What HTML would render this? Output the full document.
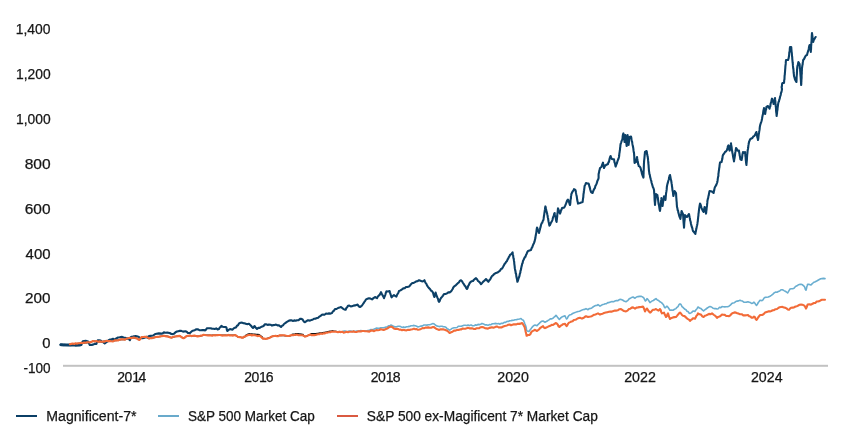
<!DOCTYPE html>
<html lang="en">
<head>
<meta charset="utf-8">
<title>Magnificent-7 vs S&amp;P 500 Market Cap</title>
<style>
html,body{margin:0;padding:0;background:#fff;}
body{width:845px;height:435px;overflow:hidden;position:relative;font-family:"Liberation Sans",Arial,sans-serif;}
svg{position:absolute;left:0;top:0;display:block;}
text{font-family:"Liberation Sans",Arial,sans-serif;font-size:14px;fill:#161616;stroke:#161616;stroke-width:0.25px;}
.ln{fill:none;stroke-linejoin:round;stroke-linecap:round;}
</style>
</head>
<body>
<svg width="845" height="435" viewBox="0 0 845 435">
<rect x="0" y="0" width="845" height="435" fill="#ffffff"/>
<rect x="63" y="364.8" width="765" height="2" fill="#c2c2c2"/>
<g>
<text id="y1400" x="15.71" y="34.0" textLength="34.79" lengthAdjust="spacingAndGlyphs">1,400</text>
<text id="y1200" x="16.01" y="78.9" textLength="34.63" lengthAdjust="spacingAndGlyphs">1,200</text>
<text id="y1000" x="16.01" y="123.7" textLength="34.63" lengthAdjust="spacingAndGlyphs">1,000</text>
<text id="y800" x="24.65" y="168.6" textLength="25.96" lengthAdjust="spacingAndGlyphs">800</text>
<text id="y600" x="24.78" y="213.5" textLength="25.78" lengthAdjust="spacingAndGlyphs">600</text>
<text id="y400" x="25.59" y="258.5" textLength="24.95" lengthAdjust="spacingAndGlyphs">400</text>
<text id="y200" x="25.14" y="303.4" textLength="25.46" lengthAdjust="spacingAndGlyphs">200</text>
<text id="y0" x="42.37" y="348.2" textLength="8.25" lengthAdjust="spacingAndGlyphs">0</text>
<text id="ym100" x="23.52" y="372.7" textLength="27.10" lengthAdjust="spacingAndGlyphs">-100</text>
<text id="x2014" x="117.20 124.55 132.15 138.45" y="382.1">2014</text>
<text id="x2016" x="244.15 251.50 259.10 265.70" y="382.1">2016</text>
<text id="x2018" x="370.75 378.10 385.70 392.80" y="382.1">2018</text>
<text id="x2020" x="497.24" y="382.1" textLength="31.67" lengthAdjust="spacingAndGlyphs">2020</text>
<text id="x2022" x="624.19" y="382.1" textLength="31.73" lengthAdjust="spacingAndGlyphs">2022</text>
<text id="x2024" x="750.94" y="382.1" textLength="31.62" lengthAdjust="spacingAndGlyphs">2024</text>
<text id="l1" x="46.29" y="420.5" textLength="90.26" lengthAdjust="spacingAndGlyphs">Magnificent-7*</text>
<text id="l2" x="187.97" y="420.5" textLength="126.78" lengthAdjust="spacingAndGlyphs">S&amp;P 500 Market Cap</text>
<text id="l3" x="366.86" y="420.5" textLength="230.97" lengthAdjust="spacingAndGlyphs">S&amp;P 500 ex-Magificent 7* Market Cap</text>
</g>
<polyline class="ln" stroke="#141414" stroke-width="1.4" points="70.0,344.1 71.0,344.1 72.0,344.0 73.0,343.9 74.0,343.8 75.0,343.7 76.0,343.6 77.0,343.6 78.0,343.5 79.0,343.4 80.0,343.3 81.0,343.2 82.0,343.1 83.0,343.1 84.0,343.0 85.0,342.9 86.0,342.8 87.0,342.7 88.0,342.6 89.0,342.6 90.0,342.4 91.0,342.0 92.0,341.6 93.0,341.1 94.0,341.2 95.0,341.3 96.0,341.4 97.0,341.5 98.0,341.7 99.0,341.7 100.0,341.7 101.0,341.7 102.0,341.6 103.0,341.4 104.0,341.2 105.0,341.1 106.0,340.9 107.0,340.9 108.0,341.0 109.0,341.1 110.0,341.1 111.0,341.2 112.0,341.1 113.0,341.0 114.0,340.8 115.0,340.6 116.0,340.5 117.0,340.3 118.0,340.1 119.0,339.9 120.0,339.7 121.0,339.5 122.0,339.5 123.0,339.5 124.0,339.6 125.0,339.6 126.0,339.2 127.0,338.8 128.0,338.3 129.0,338.1 130.0,338.0 131.0,337.9 132.0,337.8 133.0,337.8 134.0,337.9 135.0,338.0 136.0,338.1 137.0,338.5 138.0,339.1 139.0,339.7 140.0,339.3 141.0,337.9 142.0,337.1 143.0,336.9 144.0,336.8 145.0,336.8 146.0,337.2 147.0,337.7 148.0,338.1 149.0,338.5 150.0,338.3 151.0,338.1 152.0,337.9 153.0,337.7 154.0,337.5 155.0,337.3 156.0,337.1 157.0,336.9 158.0,336.8 159.0,336.6 160.0,336.5 161.0,336.4 162.0,336.2 163.0,336.1 164.0,336.0 165.0,335.9 166.0,336.1 167.0,336.3 168.0,336.5 169.0,336.9 170.0,337.2 171.0,337.6 172.0,337.5 173.0,337.1 174.0,336.8 175.0,336.5 176.0,336.4 177.0,336.2 178.0,336.1 179.0,336.0 180.0,336.1 181.0,336.7 182.0,337.3 183.0,337.8 184.0,337.9 185.0,337.2 186.0,336.5 187.0,336.1 188.0,335.9 189.0,335.7 190.0,335.5 191.0,335.6 192.0,335.7 193.0,335.8 194.0,335.9 195.0,335.9 196.0,336.0 197.0,336.1 198.0,336.1 199.0,336.2 200.0,336.0 201.0,335.8 202.0,335.6 203.0,335.4 204.0,335.2 205.0,335.0 206.0,335.1 207.0,335.1 208.0,335.2 209.0,335.3 210.0,335.3 211.0,335.4 212.0,335.3 213.0,335.3 214.0,335.2 215.0,335.2 216.0,335.1 217.0,335.1 218.0,335.1 219.0,335.0 220.0,335.1 221.0,335.1 222.0,335.1 223.0,335.2 224.0,335.2 225.0,335.3 226.0,335.3 227.0,335.4 228.0,335.3 229.0,335.3 230.0,335.2 231.0,335.2 232.0,335.1 233.0,335.1 234.0,335.1 235.0,335.0 236.0,335.7 237.0,336.3 238.0,337.0 239.0,337.1 240.0,337.2 241.0,337.4 242.0,337.5 243.0,337.6 244.0,337.2 245.0,336.7 246.0,335.1 247.0,334.7 248.0,334.2 249.0,333.8 250.0,333.9 251.0,334.0 252.0,334.0 253.0,334.1 254.0,334.2 255.0,334.3 256.0,334.4 257.0,334.4 258.0,334.5 259.0,334.6 260.0,335.3 261.0,336.0 262.0,336.7 263.0,338.6 264.0,338.6 265.0,338.6 266.0,338.6 267.0,338.6 268.0,338.2 269.0,337.8 270.0,337.4 271.0,337.0 272.0,336.6 273.0,336.2 274.0,336.1 275.0,336.0 276.0,335.9 277.0,335.8 278.0,335.7 279.0,335.6 280.0,335.5 281.0,335.4 282.0,335.5 283.0,335.5 284.0,335.6 285.0,335.7 286.0,335.8 287.0,335.9 288.0,335.9 289.0,336.0 290.0,335.8 291.0,335.6 292.0,334.5 293.0,334.3 294.0,334.1 295.0,334.0 296.0,333.8 297.0,333.6 298.0,333.7 299.0,333.9 300.0,334.0 301.0,334.1 302.0,334.3 303.0,334.4 304.0,336.0 305.0,336.6 306.0,336.2 307.0,335.8 308.0,335.4 309.0,335.0 310.0,334.9 311.0,333.8 312.0,333.8 313.0,333.7 314.0,333.6 315.0,333.6 316.0,333.6 317.0,333.5 318.0,333.4 319.0,333.2 320.0,333.0 321.0,332.9 322.0,332.8 323.0,332.6 324.0,332.4 325.0,332.3 326.0,332.1 327.0,331.9 328.0,331.7 329.0,331.5 330.0,331.3 331.0,331.1 332.0,330.9 333.0,330.7 334.0,330.8"/>
<polyline class="ln" stroke="#6aaed0" stroke-width="1.6" points="334.0,330.9 335.3,330.9 336.7,331.5 338.0,331.8 339.4,331.6 340.9,331.8 342.3,331.8 343.7,331.1 345.1,331.0 346.6,331.8 348.0,331.4 349.4,331.1 350.9,331.0 352.3,331.7 353.7,331.1 355.1,331.5 356.6,331.0 358.0,331.0 359.4,331.1 360.9,330.5 362.3,331.0 363.7,331.1 365.1,330.7 366.6,330.9 368.0,330.6 369.4,330.4 370.9,329.5 372.3,329.8 373.7,329.3 375.1,328.7 376.6,328.1 378.0,328.2 379.3,328.4 380.7,327.8 382.0,327.8 383.3,327.8 384.7,327.4 386.0,327.0 387.2,326.9 388.5,325.9 389.8,325.8 391.0,325.0 392.5,325.7 394.0,326.6 395.3,326.9 396.7,326.7 398.0,326.2 399.3,326.2 400.7,326.6 402.0,327.4 403.5,326.9 405.0,327.5 406.5,326.7 408.0,326.6 409.5,326.4 411.0,325.8 412.5,325.7 414.0,325.4 415.3,325.8 416.7,326.3 418.0,327.0 419.5,326.6 421.0,326.1 422.5,325.9 424.0,325.0 425.4,325.0 426.9,325.1 428.3,324.8 429.7,324.8 431.1,324.3 432.6,323.6 434.0,323.8 435.3,325.0 436.7,325.9 438.0,326.2 439.3,326.6 440.7,326.3 442.0,326.2 443.3,326.8 444.7,326.7 446.0,327.4 447.2,328.7 448.4,329.3 449.6,330.2 451.1,329.2 452.5,328.2 454.0,327.8 455.5,327.8 457.0,327.5 458.5,326.2 460.0,326.2 461.3,326.3 462.7,325.7 464.0,325.3 465.3,325.2 466.7,325.5 468.0,325.0 469.5,325.6 471.0,324.9 472.5,325.7 474.0,325.8 475.3,324.9 476.7,325.2 478.0,324.4 479.3,324.6 480.7,324.3 482.0,323.4 483.5,323.9 485.0,324.9 486.5,324.7 488.0,325.4 489.3,324.6 490.7,324.8 492.0,323.9 493.3,323.8 494.7,323.6 496.0,323.4 497.3,323.8 498.7,323.6 500.0,324.2 501.4,323.2 502.8,323.4 504.2,322.3 505.6,322.4 507.0,321.4 508.3,321.5 509.7,320.7 511.0,320.6 512.3,320.4 513.7,320.2 515.0,319.8 516.5,319.6 518.0,319.3 519.5,319.0 521.0,318.6 522.2,319.8 523.4,320.2 523.9,321.4 524.4,322.5 524.9,324.0 525.4,325.0 525.8,326.2 526.2,327.8 526.6,330.0 527.0,331.0 529.0,331.4 530.0,330.1 531.0,328.8 532.0,327.4 533.5,325.7 535.0,325.0 537.0,325.8 538.0,324.6 539.0,323.7 540.0,322.6 541.5,321.3 543.0,321.0 545.0,322.2 546.3,321.5 547.7,320.7 549.0,319.8 550.3,318.8 551.7,318.9 553.0,318.2 554.0,317.2 555.0,316.5 556.0,315.4 556.9,316.3 557.7,317.6 558.5,318.6 559.4,319.4 560.6,318.0 561.8,317.1 563.0,316.6 565.0,315.8 565.8,317.6 566.6,319.0 567.4,318.3 568.2,316.4 569.0,315.4 570.2,314.8 571.4,314.4 572.6,313.5 573.8,313.0 575.0,312.6 576.5,311.9 578.0,311.5 579.5,311.2 581.0,310.6 582.2,309.9 583.5,309.5 584.8,309.4 586.0,308.6 588.0,309.8 589.2,308.6 590.5,308.5 591.8,307.9 593.0,307.0 594.2,306.2 595.5,305.5 596.8,305.5 598.0,304.6 600.0,306.2 601.3,305.3 602.7,304.6 604.0,304.2 605.2,303.7 606.5,303.6 607.8,302.6 609.0,302.6 610.5,302.0 612.0,301.6 613.5,301.7 615.0,301.0 616.5,300.5 618.0,300.6 619.5,299.5 621.0,299.4 622.5,300.0 624.0,301.0 626.0,301.8 627.0,301.0 628.0,300.3 629.0,299.0 630.3,298.3 631.7,297.4 633.0,297.0 635.0,298.2 636.5,297.0 638.0,296.6 639.5,296.4 641.0,296.2 642.5,296.9 644.0,298.2 644.7,299.9 645.4,301.0 646.2,300.1 647.0,298.6 648.0,299.6 649.0,301.0 650.0,302.6 652.0,301.0 653.3,300.5 654.7,299.5 656.0,298.6 657.3,300.0 658.7,300.6 660.0,301.8 661.5,302.6 663.0,304.2 663.7,305.2 664.3,306.9 665.0,307.8 667.0,306.2 668.0,307.3 669.0,308.7 670.0,310.2 671.5,310.1 673.0,310.2 674.5,309.3 676.0,308.6 677.0,307.3 678.0,306.6 679.0,304.7 680.0,303.8 681.0,304.5 682.0,306.6 683.0,307.4 684.5,309.0 686.0,309.8 687.0,311.2 688.0,311.5 689.0,313.0 690.0,313.4 691.5,312.6 693.0,311.0 695.0,311.4 695.8,310.0 696.5,309.4 697.2,308.4 698.0,307.0 699.5,308.0 701.0,308.6 702.3,309.8 703.6,311.0 704.8,309.8 706.0,309.0 707.3,308.0 708.7,307.1 710.0,306.6 711.5,307.0 713.0,308.2 714.3,308.6 715.7,308.5 717.0,309.0 718.2,308.7 719.5,307.3 720.8,307.6 722.0,306.6 723.4,306.7 724.8,306.9 726.2,306.8 727.6,306.7 729.0,306.2 730.3,305.2 731.7,303.6 733.0,303.0 734.4,302.7 735.8,301.6 737.2,301.1 738.6,300.9 740.0,300.2 741.2,300.7 742.5,301.1 743.8,302.1 745.0,302.2 746.5,302.1 748.0,301.8 749.2,302.2 750.4,302.6 751.6,303.4 752.8,303.2 754.0,302.2 754.9,303.2 755.7,304.6 756.6,305.4 757.5,304.0 758.3,302.5 759.1,301.5 760.0,300.2 762.0,300.6 763.0,299.9 764.0,298.1 765.0,297.4 766.7,297.3 768.3,297.0 770.0,296.2 771.3,295.4 772.7,294.4 774.0,293.0 775.5,292.1 777.0,292.2 778.3,291.5 779.7,291.0 781.0,289.8 782.5,289.7 784.0,290.6 785.2,291.2 786.4,292.0 787.6,293.0 788.4,291.7 789.2,290.3 790.0,289.0 791.3,288.7 792.7,288.7 794.0,288.2 795.5,286.5 797.0,285.8 798.3,284.8 799.7,284.4 801.0,284.2 802.5,284.8 804.0,286.2 804.7,287.1 805.3,289.3 806.0,290.2 806.4,289.1 806.8,286.8 807.2,285.7 807.6,284.2 809.3,284.4 811.0,285.0 812.0,283.9 813.0,283.0 814.0,282.2 815.3,281.7 816.7,281.0 818.0,280.2 819.3,279.5 820.7,278.8 822.0,278.6 823.5,278.4 825.0,278.6"/>
<polyline class="ln" stroke="#0c4067" stroke-width="2.9" points="61.0,344.7 64.9,344.9 71.6,345.0 77.4,345.1 80.8,344.9"/>
<polyline class="ln" stroke="#0c4067" stroke-width="2.1" points="60.4,344.7 61.9,344.9 63.4,345.1 64.9,344.9 66.3,345.2 67.6,345.3 68.9,345.1 70.2,345.3 71.6,344.9 73.0,344.5 74.5,344.9 75.9,345.5 77.4,345.1 78.8,345.1 80.1,345.1 81.5,344.6 82.1,342.5 82.8,341.3 84.2,341.0 85.7,340.8 88.1,341.4 88.7,342.4 89.2,343.8 89.8,345.0 91.5,344.9 93.1,344.6 94.8,343.8 96.4,343.9 97.0,341.9 97.7,340.4 99.1,340.3 100.6,340.6 101.8,341.8 103.1,342.1 104.7,343.4 106.4,342.1 107.5,341.5 108.6,340.1 109.7,339.6 111.3,339.5 113.0,338.8 114.7,339.6 116.3,338.4 118.0,337.5 119.6,337.3 122.1,336.9 123.6,337.5 125.0,337.8 127.5,338.4 128.7,338.9 129.9,340.2 130.6,337.9 131.2,336.7 132.6,336.8 134.1,336.2 135.5,336.1 136.8,336.3 138.2,336.7 139.9,337.7 141.5,338.2 143.2,338.1 144.9,337.7 146.2,336.9 147.6,337.1 149.0,336.0 150.4,335.9 151.8,335.8 153.1,335.5 154.8,334.3 156.5,333.8 158.9,333.4 161.4,333.6 162.7,333.4 163.9,332.4 165.6,332.7 167.2,332.6 169.7,333.0 171.4,334.0 173.0,334.1 174.3,333.5 175.5,332.2 176.9,331.5 178.3,331.2 179.7,330.9 181.3,330.9 183.0,331.6 185.5,331.3 186.7,331.8 187.9,333.0 190.0,333.0 191.0,332.0 192.2,330.9 193.5,330.5 194.8,330.2 196.0,329.4 197.7,329.2 199.3,330.1 201.0,330.2 202.3,330.1 203.7,330.1 205.0,330.4 206.0,329.6 207.0,328.2 208.7,328.3 210.3,328.3 212.0,328.6 213.4,328.7 214.8,329.0 216.2,328.4 217.6,329.4 219.0,329.0 219.8,327.4 220.6,327.1 221.4,325.8 222.7,326.8 224.0,327.0 226.0,327.0 226.5,327.8 226.9,330.0 227.4,331.0 228.7,329.9 230.0,329.0 231.3,329.4 232.6,329.6 233.7,328.4 234.9,327.7 236.0,327.4 237.0,325.7 238.0,325.2 239.0,323.4 240.5,322.7 242.0,322.6 243.5,323.3 245.0,323.4 246.3,324.0 247.7,324.1 249.0,323.8 250.0,324.7 251.0,325.7 252.0,327.0 253.0,328.0 254.6,326.0 255.8,327.8 257.0,329.0 258.3,327.9 259.7,327.9 261.0,327.0 262.2,326.6 263.5,326.0 264.8,324.4 266.0,324.2 267.5,324.9 269.0,324.6 270.5,324.7 272.0,325.6 273.3,325.1 274.7,325.0 276.0,324.6 277.5,325.4 279.0,325.4 281.0,327.0 282.0,325.8 283.0,325.4 284.0,324.0 285.2,323.2 286.5,322.1 287.8,321.3 289.0,320.6 290.3,320.4 291.7,320.4 293.0,321.0 294.3,320.4 295.7,320.7 297.0,320.2 298.5,320.3 299.9,318.9 301.4,318.8 302.6,319.5 303.8,321.6 305.0,322.2 306.5,321.2 308.0,320.2 310.0,320.6 311.5,319.9 313.0,319.4 314.3,318.7 315.7,318.6 317.0,318.0 318.2,317.7 319.4,316.6 320.6,315.9 321.8,314.8 323.0,314.6 324.5,314.7 326.0,313.5 327.5,313.7 329.0,313.4 330.5,313.6 332.0,313.0 333.0,311.3 334.0,310.6 335.0,309.0 336.5,309.0 338.0,308.0 339.5,307.6 341.0,307.0 343.0,308.6 344.3,309.5 345.6,309.8 346.4,308.0 347.2,307.1 348.0,305.8 349.3,305.6 350.7,306.4 352.0,306.2 353.5,305.6 355.0,305.4 356.3,304.9 357.6,304.6 358.8,306.3 360.0,307.0 361.0,306.4 362.0,305.5 363.0,304.0 363.8,302.8 364.5,301.7 365.2,300.8 366.0,299.4 367.5,298.8 369.0,298.2 370.5,298.6 372.0,299.4 373.5,298.1 375.0,297.0 377.0,298.2 377.8,296.6 378.6,295.7 379.4,295.1 380.2,293.9 381.0,292.2 381.6,293.5 382.2,294.6 382.8,295.6 383.4,296.6 384.0,298.2 384.5,296.6 385.0,295.8 385.4,294.5 385.9,292.6 386.4,291.4 388.0,291.5 389.6,291.0 390.0,292.6 390.4,293.8 390.8,295.0 391.2,296.4 391.6,297.4 392.8,296.1 394.0,295.0 395.2,296.0 396.4,296.6 397.0,295.0 397.7,293.8 398.4,292.7 399.0,291.0 400.5,290.4 402.0,289.4 403.3,288.4 404.7,288.3 406.0,287.0 407.5,287.0 409.0,286.6 410.0,285.5 411.0,284.2 412.3,283.0 413.7,282.9 415.0,282.2 416.3,281.3 417.7,281.1 419.0,280.2 420.5,280.8 422.0,281.4 423.2,281.2 424.4,280.2 425.0,281.7 425.7,283.1 426.4,283.9 427.0,285.4 428.0,286.8 429.0,288.1 430.0,289.0 431.0,290.6 432.0,291.2 433.0,292.6 433.5,294.4 433.9,295.9 434.4,297.0 434.8,295.7 435.2,294.6 435.6,292.6 436.1,294.4 436.5,295.3 437.0,296.6 437.5,297.9 438.0,298.8 438.5,300.9 439.0,301.8 439.7,301.0 440.3,299.2 441.0,298.0 442.0,296.9 443.0,295.6 444.0,294.0 445.5,294.0 447.0,293.4 448.3,292.4 449.7,292.4 451.0,291.4 451.8,290.3 452.5,289.2 453.2,287.7 454.0,286.6 455.0,285.8 456.0,285.1 457.0,284.1 458.0,283.0 459.0,282.3 460.0,280.6 461.0,280.2 462.0,281.2 463.0,283.0 463.8,284.1 464.6,285.6 465.4,286.3 466.2,288.0 467.0,289.0 467.6,287.9 468.2,285.9 468.8,285.1 469.4,283.6 470.0,282.6 471.5,281.3 473.0,281.0 474.0,279.7 475.0,278.9 476.0,278.2 477.0,279.2 478.0,281.0 479.0,281.7 480.0,282.6 481.0,284.2 482.0,283.1 483.0,281.9 484.0,281.0 485.0,280.1 486.0,279.0 487.2,280.5 488.4,281.8 489.3,280.2 490.1,279.6 491.0,277.8 492.0,276.0 493.0,275.3 494.0,274.2 495.3,273.3 496.7,272.8 498.0,272.2 500.0,270.6 501.0,269.0 502.0,268.6 503.0,267.0 503.8,265.6 504.5,264.0 505.2,263.4 506.0,262.0 507.0,261.0 507.6,259.3 508.2,258.7 508.8,257.2 509.4,256.3 510.0,255.0 511.3,254.2 512.6,252.4 512.8,254.2 513.1,255.2 513.3,257.1 513.5,258.3 513.8,259.4 514.0,261.0 514.2,261.9 514.3,263.8 514.5,265.1 514.7,266.9 514.8,268.2 515.0,269.0 515.2,270.4 515.5,271.4 515.7,273.3 516.0,273.6 516.2,275.0 516.4,276.8 516.7,278.1 516.9,278.8 517.2,280.7 517.4,281.8 517.9,280.8 518.4,278.9 518.9,277.5 519.4,276.2 519.7,274.6 520.0,273.3 520.3,272.8 520.5,270.8 520.8,270.2 521.1,268.8 521.4,267.0 521.8,265.6 522.2,263.7 522.6,263.1 523.0,261.0 523.6,259.8 524.2,258.5 524.8,257.2 525.4,256.8 526.0,255.0 526.7,253.7 527.3,252.1 528.0,251.0 529.5,250.5 531.0,250.0 531.6,248.1 532.2,247.3 532.8,245.7 533.4,244.2 534.0,243.0 534.5,241.7 534.9,240.1 535.4,238.0 535.6,236.1 535.8,235.4 536.0,233.8 536.2,233.3 536.4,231.8 536.6,229.9 536.8,228.6 537.0,227.6 537.5,228.5 538.0,230.9 538.5,231.4 539.0,233.0 539.3,231.8 539.7,230.3 540.0,229.2 540.3,227.8 540.7,226.6 541.0,225.0 541.6,223.3 542.2,222.8 542.8,221.0 543.4,220.0 543.6,218.7 543.8,217.1 544.0,215.7 544.2,214.6 544.4,213.2 544.6,211.7 544.8,210.8 545.0,209.2 545.2,207.2 545.4,206.4 545.7,207.4 546.0,209.0 546.4,210.9 546.7,212.2 547.0,213.0 547.3,214.5 547.5,215.2 547.8,217.5 548.1,218.5 548.3,220.1 548.6,221.7 548.9,223.0 549.1,224.2 549.4,225.6 550.0,225.0 550.7,223.2 551.4,222.0 552.0,221.0 552.4,220.1 552.9,218.0 553.3,216.7 553.7,216.1 554.2,213.8 554.6,213.0 554.9,214.7 555.2,215.8 555.5,216.8 555.7,217.9 556.0,219.8 556.3,221.2 556.6,222.0 556.7,220.2 556.9,219.3 557.0,218.0 557.2,216.6 557.3,215.0 557.4,213.4 557.6,212.6 557.7,211.5 557.9,209.2 558.0,208.4 558.5,209.4 559.0,211.4 559.5,212.7 560.0,213.6 560.5,212.4 561.0,210.2 561.5,209.7 562.0,208.0 564.0,207.6 564.6,206.8 565.3,205.4 566.0,203.7 566.6,202.0 567.3,200.2 568.0,199.6 568.5,201.4 569.0,201.9 569.5,203.8 570.0,205.0 570.2,204.2 570.4,202.5 570.5,200.4 570.7,199.2 570.9,198.7 571.0,196.3 571.2,195.5 571.4,194.0 572.0,192.7 572.7,191.2 573.4,190.6 574.0,189.2 575.4,190.0 575.7,190.8 575.9,192.2 576.2,193.9 576.4,194.9 576.7,196.2 577.0,198.3 577.2,199.8 577.5,201.4 577.7,201.8 578.0,203.6 580.0,203.0 581.3,202.4 582.6,202.0 582.8,200.4 582.9,199.5 583.1,198.0 583.3,197.2 583.4,195.2 583.6,193.4 583.8,192.9 583.9,190.9 584.1,190.2 584.3,188.7 584.4,187.9 584.6,186.0 585.3,184.6 586.0,183.0 587.3,183.5 588.6,183.6 589.0,184.7 589.4,186.5 589.8,187.5 590.2,189.5 590.6,190.6 591.0,192.0 592.6,193.0 593.2,191.2 593.7,190.0 594.3,188.8 594.9,188.0 595.4,185.9 596.0,185.0 596.5,183.9 597.0,182.4 597.6,180.3 598.1,179.6 598.6,178.0 598.6,176.1 598.6,174.8 598.6,174.0 599.0,172.6 599.3,170.6 599.6,170.0 600.0,168.0 601.4,167.0 601.9,165.5 602.5,163.8 603.0,162.6 603.2,164.4 603.5,164.7 603.8,167.0 604.0,168.0 605.0,165.9 606.0,165.0 608.0,164.0 608.4,162.2 608.9,162.0 609.3,160.2 609.7,158.3 610.2,156.8 610.6,156.0 611.3,158.1 612.0,159.0 614.0,159.4 614.3,161.1 614.6,162.7 615.0,163.2 615.3,165.3 615.6,166.6 616.3,164.6 617.0,163.0 617.5,161.1 618.0,159.8 618.5,158.7 619.0,157.0 619.2,155.5 619.3,154.2 619.5,152.6 619.6,152.3 619.8,150.7 620.0,149.6 620.1,147.8 620.3,147.1 620.4,145.3 620.6,144.0 621.1,142.8 621.5,141.4 622.0,140.0 622.3,139.0 622.6,137.2 622.8,135.5 623.1,134.1 623.4,133.4 623.6,134.4 623.8,135.6 624.0,138.2 624.2,139.1 624.4,140.9 624.6,142.0 624.8,139.9 624.9,139.2 625.1,138.4 625.2,136.6 625.4,135.0 625.5,136.3 625.7,137.7 625.9,138.6 626.0,140.0 626.1,141.4 626.3,143.1 626.5,144.5 626.6,146.0 626.7,145.2 626.9,142.8 627.0,141.5 627.1,140.2 627.2,138.6 627.4,137.4 627.5,136.0 627.6,135.0 627.7,136.4 627.9,137.2 628.0,139.9 628.2,140.5 628.3,142.8 628.5,143.8 628.6,145.0 628.7,143.9 628.9,142.3 629.0,141.6 629.1,139.1 629.3,138.6 629.4,137.0 631.0,136.6 631.3,137.7 631.5,139.6 631.8,141.1 632.1,141.7 632.3,143.2 632.6,145.0 632.8,145.7 633.1,147.3 633.3,148.4 633.5,150.2 633.8,152.3 634.0,153.0 634.1,154.2 634.2,155.6 634.3,157.2 634.3,158.4 634.4,160.5 634.5,161.9 634.6,163.0 636.0,162.0 636.3,159.9 636.7,158.3 637.0,157.0 637.2,158.5 637.5,160.2 637.7,161.1 637.9,162.0 638.1,164.1 638.4,164.0 638.6,166.0 639.6,166.4 640.6,168.0 641.0,169.9 641.3,170.9 641.6,171.9 642.0,174.0 642.7,175.9 643.4,177.6 643.5,176.9 643.5,175.0 643.6,173.4 643.6,171.7 643.7,170.4 643.7,170.2 643.8,168.3 643.8,167.6 643.9,165.0 643.9,164.0 644.0,163.0 644.1,161.0 644.2,160.1 644.4,158.3 644.5,157.2 644.6,156.0 644.8,154.5 644.9,152.8 645.0,152.0 646.6,151.0 646.8,151.7 647.1,154.3 647.3,154.6 647.5,156.3 647.8,157.5 648.0,159.0 648.1,160.4 648.2,161.1 648.3,162.7 648.4,163.8 648.6,165.7 648.7,167.6 648.8,168.5 648.9,170.1 649.0,171.0 649.2,172.1 649.4,174.0 649.8,174.8 650.1,176.9 650.5,178.3 650.9,179.8 651.3,181.0 651.6,182.7 652.0,184.0 652.5,185.8 653.0,187.5 653.5,188.2 654.0,190.0 654.1,191.3 654.2,193.2 654.3,193.7 654.4,195.0 654.5,196.6 654.5,197.6 654.6,199.9 654.7,201.3 654.8,202.0 654.9,203.2 655.0,205.0 655.1,203.1 655.2,201.9 655.4,200.3 655.5,199.4 655.6,198.2 655.8,196.4 655.9,194.8 656.0,194.0 657.4,195.0 657.6,196.8 657.8,197.4 658.0,199.1 658.2,200.7 658.4,202.3 658.6,204.0 658.9,204.9 659.2,206.7 659.4,208.0 659.7,209.9 660.0,211.0 660.1,209.8 660.3,208.9 660.4,207.3 660.6,206.1 660.7,204.6 660.8,203.1 661.0,202.3 661.1,200.8 661.3,199.9 661.4,198.0 661.6,199.6 661.8,200.9 662.0,201.7 662.2,203.7 662.4,204.5 662.6,206.0 662.8,204.2 663.0,202.7 663.2,201.5 663.4,200.2 663.6,199.4 663.8,197.5 664.0,196.4 664.7,197.6 665.4,200.0 665.6,198.9 665.7,197.3 665.9,195.2 666.0,193.8 666.2,192.5 666.4,191.4 666.5,190.7 666.7,189.4 666.8,187.5 667.0,186.0 667.4,184.1 667.8,182.9 668.2,181.3 668.6,180.0 669.1,178.1 669.5,176.0 670.0,175.0 670.3,176.5 670.6,178.2 670.8,179.5 671.1,180.1 671.4,182.0 671.6,183.4 671.8,184.4 672.0,186.5 672.2,187.5 672.4,189.6 672.6,190.8 672.8,191.3 673.0,193.0 673.2,195.1 673.4,196.0 673.8,194.3 674.2,192.6 674.6,191.0 676.0,193.0 676.1,194.3 676.2,196.1 676.3,197.8 676.4,198.6 676.5,200.6 676.6,201.5 676.7,202.3 676.8,204.6 676.9,205.5 677.0,207.0 677.3,207.8 677.7,210.3 678.0,210.4 678.3,212.4 678.7,213.6 679.0,215.0 679.5,216.8 679.9,217.5 680.4,219.0 680.6,217.3 680.8,216.1 681.0,214.6 681.2,213.7 681.4,212.2 681.6,211.0 682.3,212.8 683.0,214.0 683.1,215.0 683.2,216.5 683.3,217.8 683.4,220.0 683.5,221.2 683.6,222.6 683.7,223.7 683.8,224.8 683.9,225.8 684.0,227.6 684.1,226.6 684.2,224.8 684.3,222.8 684.4,221.6 684.6,220.1 684.7,219.5 684.8,218.3 684.9,216.0 685.0,215.0 686.0,216.4 687.0,217.0 688.0,215.3 689.0,214.0 689.3,215.7 689.6,217.3 689.9,218.4 690.1,220.1 690.4,221.0 690.7,222.0 691.0,224.0 691.4,225.4 691.8,226.9 692.2,227.8 692.6,229.5 693.0,231.0 694.2,232.3 695.4,234.0 695.6,232.1 695.9,231.1 696.1,229.9 696.4,228.6 696.6,227.6 696.9,225.9 697.1,225.3 697.4,223.7 697.6,222.0 697.8,221.2 697.9,219.6 698.1,218.2 698.2,216.7 698.4,215.7 698.5,213.8 698.7,212.8 698.8,211.6 699.0,210.0 699.2,208.4 699.5,206.5 699.8,204.7 700.0,203.6 700.5,204.4 701.0,206.1 701.5,207.8 702.0,209.0 702.8,210.8 703.6,212.0 703.9,210.6 704.3,208.4 704.6,207.0 704.9,208.9 705.2,209.4 705.4,211.2 705.7,211.7 706.0,213.6 706.2,212.6 706.3,211.1 706.5,210.1 706.6,208.7 706.8,207.0 707.0,205.9 707.1,204.4 707.3,202.9 707.4,201.0 707.6,200.0 707.9,198.7 708.2,197.9 708.5,195.8 708.7,195.5 709.0,193.6 709.3,192.1 709.6,191.0 712.0,191.6 713.6,193.0 714.0,190.9 714.3,189.9 714.6,188.1 715.0,187.0 715.7,185.9 716.3,184.9 717.0,183.0 717.3,182.1 717.6,180.4 717.8,178.6 718.1,176.9 718.4,176.0 718.4,174.0 718.6,172.8 718.8,171.2 719.0,170.0 719.2,168.1 719.4,167.4 719.6,165.1 719.8,163.8 720.0,162.6 721.6,162.0 721.9,160.3 722.2,159.4 722.4,158.3 722.7,155.9 723.0,155.0 724.0,153.7 725.0,152.0 726.0,151.4 727.0,150.0 727.5,148.1 727.9,146.3 728.4,145.4 728.7,146.8 729.0,148.5 729.3,149.8 729.6,150.6 729.9,149.5 730.2,147.6 730.4,146.2 730.7,144.9 731.0,143.4 731.2,145.3 731.4,145.9 731.6,147.2 731.8,149.0 732.0,150.9 732.2,151.2 732.4,153.0 732.7,153.8 732.9,155.3 733.2,157.3 733.5,158.7 733.7,159.6 734.0,161.4 734.2,159.6 734.4,158.8 734.6,157.6 734.8,156.3 735.0,155.0 735.2,152.8 735.4,152.0 735.6,151.1 735.8,150.0 736.0,148.0 736.8,149.0 737.6,150.6 739.0,150.6 739.2,152.6 739.5,153.7 739.7,155.6 739.9,156.1 740.2,158.2 740.4,159.4 741.6,160.0 741.8,159.1 742.1,157.3 742.3,155.5 742.5,154.2 742.8,152.9 743.0,152.0 744.0,153.0 745.0,152.0 745.1,152.7 745.3,154.1 745.4,156.1 745.6,156.7 745.7,158.9 745.8,160.1 746.0,161.5 746.1,162.8 746.3,164.0 746.4,165.0 746.5,164.2 746.6,162.8 746.8,161.0 746.9,160.0 747.0,157.5 747.1,156.1 747.2,154.6 747.4,153.4 747.5,152.2 747.6,151.0 747.8,149.7 748.0,148.7 748.2,147.5 748.4,145.3 748.6,144.4 748.8,143.3 749.0,142.0 749.7,140.3 750.4,139.0 752.4,138.0 753.3,136.5 754.1,136.1 755.0,135.0 755.7,133.3 756.4,132.0 756.7,133.6 756.9,134.7 757.2,136.7 757.5,138.0 757.7,138.1 758.0,140.0 758.2,139.0 758.4,137.5 758.6,135.5 758.8,133.9 759.0,133.0 759.2,131.4 759.4,130.5 759.6,129.4 759.8,127.2 760.0,126.0 760.4,124.3 760.8,123.2 761.2,122.1 761.6,120.8 762.0,119.0 762.2,117.7 762.5,116.0 762.8,114.6 763.0,114.0 763.2,112.2 763.5,110.1 763.8,109.3 764.0,108.0 764.3,109.1 764.6,111.2 764.9,111.9 765.2,114.0 765.4,112.3 765.7,110.6 765.9,109.8 766.2,109.1 766.4,107.0 768.0,106.0 768.8,107.4 769.6,108.6 769.9,107.0 770.3,106.4 770.6,103.7 771.0,102.7 771.3,101.9 771.7,99.3 772.0,98.6 772.4,100.3 772.8,101.1 773.2,101.9 773.6,104.0 774.0,102.1 774.3,100.9 774.6,99.3 775.0,98.0 775.1,99.4 775.2,100.1 775.4,101.7 775.5,104.2 775.6,104.8 775.7,106.3 775.9,107.1 776.0,108.8 776.1,111.1 776.2,112.1 776.4,113.2 776.5,114.0 776.6,116.0 776.8,114.5 777.0,113.7 777.1,111.8 777.3,110.6 777.5,109.7 777.6,108.0 777.8,106.6 778.0,105.0 778.3,103.0 778.7,101.6 779.0,101.4 779.3,99.5 779.7,98.9 780.0,97.0 780.3,96.2 780.7,95.0 781.0,92.8 781.3,92.4 781.7,90.7 782.0,89.0 781.6,87.0 781.9,86.3 782.1,83.8 782.4,83.0 784.0,83.0 784.1,82.1 784.2,80.1 784.4,79.6 784.5,78.3 784.6,75.7 784.8,74.6 784.9,73.0 785.0,72.0 785.1,70.6 785.2,69.0 785.3,68.3 785.4,66.1 785.6,64.8 785.7,63.9 785.8,62.0 785.9,61.1 786.0,60.0 788.0,60.0 788.3,59.3 788.7,57.9 789.0,56.0 789.2,54.0 789.3,52.2 789.5,52.0 789.7,50.7 789.8,48.7 790.0,47.0 791.2,47.0 791.3,47.7 791.4,49.2 791.6,51.6 791.7,52.9 791.8,52.8 791.9,54.3 792.0,56.0 792.2,57.0 792.3,59.1 792.4,60.0 792.5,61.1 792.7,63.1 792.8,63.5 792.9,65.4 793.1,67.4 793.2,68.3 793.3,68.7 793.5,70.1 793.6,72.2 793.7,73.1 793.9,74.5 794.0,76.0 794.4,77.3 794.8,78.8 795.2,80.0 796.4,82.0 796.5,81.3 796.6,78.8 796.6,77.9 796.7,76.0 796.8,75.1 796.9,74.0 797.0,71.6 797.0,70.8 797.1,69.7 797.2,68.0 797.5,65.7 797.8,65.4 798.1,63.4 798.4,62.0 799.6,64.0 799.7,65.4 799.8,67.0 799.9,68.7 800.1,69.0 800.2,71.1 800.3,71.9 800.4,74.0 800.5,75.2 800.6,76.5 800.7,77.4 800.8,79.2 800.9,80.8 801.0,82.5 801.1,84.3 801.2,85.0 801.3,83.5 801.3,82.4 801.4,81.4 801.4,80.4 801.5,79.1 801.6,77.9 801.6,75.5 801.7,74.0 801.8,73.9 801.8,71.3 801.9,70.5 801.9,69.7 802.0,68.0 802.2,66.7 802.4,65.2 802.6,64.7 802.8,62.4 803.0,61.4 803.2,60.0 804.1,59.0 805.0,57.0 806.0,55.4 807.0,55.0 807.5,53.1 807.9,51.7 808.4,50.0 808.8,48.4 809.2,46.2 809.6,45.0 809.8,46.3 810.1,47.1 810.3,48.5 810.6,50.3 810.8,52.0 810.9,50.1 811.0,50.0 811.1,47.6 811.1,46.2 811.2,45.7 811.3,44.2 811.4,42.1 811.5,41.7 811.6,40.0 811.7,38.2 811.7,37.3 811.8,35.3 811.9,34.0 812.0,33.0 812.2,35.1 812.4,35.9 812.6,38.1 812.8,38.5 813.0,39.9 813.2,42.0 813.8,39.8 814.4,39.0 815.6,37.0"/>
<polyline class="ln" stroke="#f26b38" stroke-width="2.1" points="69.9,344.2 71.3,343.9 72.8,343.6 74.2,344.0 75.6,343.3 77.0,343.6 78.4,343.3 79.9,343.3 81.3,342.8 82.7,343.1 84.1,342.5 85.5,342.8 87.0,342.3 88.4,342.2 89.8,342.5 91.5,341.7 93.1,341.1 94.8,341.6 96.4,341.1 98.1,341.7 99.7,341.4 101.4,341.7 103.1,341.5 104.7,341.6 106.4,340.8 108.0,341.1 109.7,341.0 111.3,341.3 113.0,341.5 114.7,340.3 116.3,340.4 118.0,340.5 119.6,339.6 121.3,339.4 123.1,339.2 125.0,339.6 126.6,338.5 128.3,338.2 129.7,337.8 131.0,338.2 132.4,337.7 133.8,337.6 135.2,338.1 136.6,338.2 138.0,339.3 139.5,340.0 140.5,338.4 141.5,337.1 143.2,337.0 144.9,336.7 146.2,336.9 147.6,337.5 149.0,338.5 150.4,338.0 151.8,338.2 153.1,337.7 154.5,337.4 155.9,337.0 157.3,336.9 158.7,336.8 160.0,336.4 161.4,336.3 163.1,335.9 164.7,335.9 166.4,336.5 168.1,336.5 169.7,337.3 171.4,337.7 173.0,336.9 174.7,336.5 176.3,336.4 178.0,336.1 179.7,335.9 181.3,336.9 182.5,337.9 183.6,338.2 185.0,337.5 186.3,336.3 188.1,335.7 190.0,335.5 191.5,336.1 193.0,335.8 194.5,335.5 196.0,335.9 197.5,336.4 199.0,336.2 200.5,335.6 202.0,335.6 203.5,334.8 205.0,335.0 206.5,335.3 208.0,335.5 209.5,335.4 211.0,335.4 212.3,335.7 213.7,335.1 215.0,335.4 216.3,335.2 217.7,335.1 219.0,335.0 220.3,335.0 221.7,335.5 223.0,335.6 224.3,335.2 225.7,335.5 227.0,335.4 228.3,334.9 229.7,335.5 231.0,335.3 232.3,335.6 233.7,335.4 235.0,335.0 236.5,335.8 238.0,337.0 239.7,337.1 241.3,337.6 243.0,337.6 244.2,336.6 245.4,336.5 246.6,335.7 247.8,335.1 249.0,335.0 250.4,334.7 251.9,335.5 253.3,335.0 254.7,335.2 256.1,335.5 257.6,336.1 259.0,335.8 260.3,336.3 261.7,337.6 263.0,338.6 264.3,338.6 265.7,339.0 267.0,338.6 268.5,338.3 270.0,337.8 271.5,336.6 273.0,336.2 274.3,336.0 275.7,335.8 277.0,336.2 278.3,336.1 279.7,335.2 281.0,335.4 282.3,335.2 283.7,335.3 285.0,335.4 286.3,335.8 287.7,336.0 289.0,336.0 290.3,335.5 291.7,335.0 293.0,335.2 294.3,334.9 295.7,334.9 297.0,334.6 298.5,335.3 300.0,335.2 301.5,335.2 303.0,335.4 305.0,336.6 306.3,336.2 307.7,335.7 309.0,335.0 310.3,334.5 311.7,335.3 313.0,335.1 314.3,335.1 315.7,335.0 317.0,334.6 318.3,334.3 319.7,334.1 321.0,333.6 322.3,333.9 323.7,333.2 325.0,333.4 326.3,332.7 327.7,332.6 329.0,332.3 330.3,332.2 331.7,331.6 333.0,331.8 334.7,331.4 336.3,331.7 338.0,332.2 339.4,331.8 340.9,332.1 342.3,331.7 343.7,332.6 345.1,332.3 346.6,331.8 348.0,332.2 349.4,331.8 350.9,331.8 352.3,331.7 353.7,331.4 355.1,332.0 356.6,332.0 358.0,331.4 359.4,331.4 360.9,331.4 362.3,331.0 363.7,331.0 365.1,331.2 366.6,331.2 368.0,331.4 369.4,331.6 370.9,330.7 372.3,330.4 373.7,331.2 375.1,330.6 376.6,330.0 378.0,330.2 379.3,330.0 380.7,329.3 382.0,329.6 383.3,329.9 384.7,329.6 386.0,329.0 387.2,328.6 388.5,327.6 389.8,327.1 391.0,326.6 392.5,327.3 394.0,328.6 395.3,329.0 396.7,328.9 398.0,329.0 399.3,329.7 400.7,329.6 402.0,330.2 403.5,329.8 405.0,330.3 406.5,330.4 408.0,329.8 409.5,329.9 411.0,329.5 412.5,329.2 414.0,328.6 415.3,329.2 416.7,329.1 418.0,329.8 419.5,329.4 421.0,328.9 422.5,328.1 424.0,328.2 425.4,327.6 426.9,327.6 428.3,327.4 429.7,327.7 431.1,327.8 432.6,327.1 434.0,327.0 435.3,328.2 436.7,329.1 438.0,329.4 439.3,329.9 440.7,329.3 442.0,329.4 443.3,329.4 444.7,329.7 446.0,330.2 447.2,330.8 448.4,331.8 449.6,333.0 451.1,332.3 452.5,331.8 454.0,330.6 455.5,330.6 457.0,330.0 458.5,329.9 460.0,329.4 461.3,329.4 462.7,328.5 464.0,328.8 465.3,328.7 466.7,328.3 468.0,327.8 469.5,328.4 471.0,328.4 472.5,328.4 474.0,329.0 475.3,329.0 476.7,328.2 478.0,328.3 479.3,328.1 480.7,327.2 482.0,327.0 483.5,327.3 485.0,328.2 486.5,328.4 488.0,328.6 489.3,327.9 490.7,327.6 492.0,327.3 493.3,327.7 494.7,327.2 496.0,326.6 497.3,326.5 498.7,327.5 500.0,327.4 501.4,327.5 502.8,326.8 504.2,326.1 505.6,325.8 507.0,325.4 508.3,324.8 509.7,324.5 511.0,325.3 512.3,324.7 513.7,324.4 515.0,324.2 516.4,324.4 517.8,323.7 519.2,323.9 520.6,323.6 522.0,323.0 522.9,324.0 523.7,325.4 524.6,327.0 524.9,328.3 525.3,329.7 525.6,331.5 525.9,332.6 526.3,334.3 526.6,335.8 528.0,335.0 529.4,335.0 530.3,334.2 531.1,332.5 532.0,331.4 533.5,330.6 535.0,329.8 537.0,331.0 538.0,330.2 539.0,329.5 540.0,328.2 541.5,327.1 543.0,326.2 544.0,327.6 545.0,328.2 546.3,327.5 547.7,326.9 549.0,326.2 550.3,325.8 551.7,324.9 553.0,325.0 554.5,323.9 556.0,323.0 556.9,323.7 557.7,324.5 558.5,326.3 559.4,327.0 560.6,325.7 561.8,325.1 563.0,324.2 565.0,323.8 565.8,325.2 566.6,326.2 567.4,325.1 568.2,323.6 569.0,322.6 570.2,322.1 571.4,321.5 572.6,321.2 573.8,320.0 575.0,319.8 576.2,319.4 577.5,318.5 578.8,318.1 580.0,317.8 582.0,318.6 583.3,318.1 584.7,317.0 586.0,316.2 588.0,317.0 589.2,316.7 590.5,316.5 591.8,316.2 593.0,315.4 594.2,314.8 595.5,314.5 596.8,313.9 598.0,313.4 600.0,314.6 601.3,314.1 602.7,313.7 604.0,313.0 605.7,312.6 607.3,312.2 609.0,311.8 610.5,311.5 612.0,311.6 613.5,311.1 615.0,310.6 616.5,310.6 618.0,310.2 619.5,309.2 621.0,309.0 622.5,310.1 624.0,311.0 626.0,311.4 627.5,310.6 629.0,309.0 630.3,308.8 631.7,307.6 633.0,307.4 635.0,308.6 636.5,307.6 638.0,307.4 639.5,307.1 641.0,307.0 643.0,306.6 643.7,307.8 644.3,309.5 645.0,311.4 646.0,309.6 647.0,308.6 648.0,310.1 649.0,311.6 650.0,312.6 651.0,312.0 652.0,310.6 653.3,309.7 654.7,309.7 656.0,309.0 657.3,310.0 658.6,310.6 660.0,309.0 660.7,310.1 661.3,312.3 662.0,313.4 664.0,312.6 664.7,314.5 665.3,315.3 666.0,317.0 666.7,316.3 667.3,314.5 668.0,313.4 668.5,314.8 669.0,316.7 669.5,317.9 670.0,319.0 671.5,317.9 673.0,317.4 674.5,317.1 676.0,317.0 677.0,315.9 678.0,314.6 679.0,313.4 680.0,312.6 681.0,313.5 682.0,315.0 683.0,315.8 684.5,316.1 686.0,317.4 687.0,318.4 688.0,319.1 689.0,319.6 690.0,321.0 691.0,319.9 692.0,319.3 693.0,318.2 695.0,318.6 695.8,317.3 696.5,315.6 697.2,315.2 698.0,313.4 699.5,314.3 701.0,314.6 702.3,316.3 703.6,317.0 704.8,315.8 706.0,315.4 707.5,314.7 709.0,313.9 710.5,314.2 712.0,313.4 714.0,315.0 715.0,315.7 716.0,316.5 717.0,317.8 718.2,316.9 719.5,316.6 720.8,315.7 722.0,314.6 723.4,314.7 724.8,314.9 726.2,316.0 727.6,316.0 729.0,316.2 730.3,315.3 731.7,313.7 733.0,313.0 734.5,312.4 736.0,312.6 737.3,313.3 738.7,313.6 740.0,314.2 741.7,314.2 743.3,315.4 745.0,315.4 746.5,315.3 748.0,315.0 749.2,316.2 750.4,316.5 751.6,317.8 752.8,317.6 754.0,316.6 754.9,317.2 755.7,319.1 756.6,319.8 757.5,318.6 758.3,317.2 759.1,316.3 760.0,315.0 762.0,315.0 763.5,314.2 765.0,312.6 766.7,312.0 768.3,311.4 770.0,311.4 771.3,311.0 772.7,310.3 774.0,310.2 775.5,309.2 777.0,309.0 778.3,308.0 779.7,307.2 781.0,307.0 782.5,306.9 784.0,307.4 785.2,307.8 786.5,308.4 787.8,309.5 789.0,309.8 790.0,308.6 791.0,307.8 792.5,307.6 794.0,307.4 795.5,306.5 797.0,306.2 798.3,305.5 799.7,304.7 801.0,304.6 802.5,304.8 804.0,305.4 805.0,306.5 806.0,308.6 806.5,307.5 807.1,306.0 807.6,304.6 809.3,304.3 811.0,304.6 812.5,303.8 814.0,303.0 815.3,302.9 816.7,301.5 818.0,301.4 819.3,301.2 820.7,300.3 822.0,299.8 823.5,299.8 825.0,299.8"/>
<g>
<rect x="16" y="415" width="21" height="2" fill="#0b3f66"/>
<rect x="158" y="415" width="21" height="2" fill="#69aacb"/>
<rect x="337" y="415" width="21" height="2" fill="#da5a41"/>
</g>
</svg>
</body>
</html>
